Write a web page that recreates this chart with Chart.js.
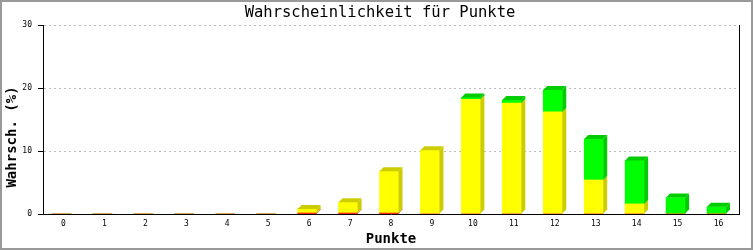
<!DOCTYPE html>
<html><head><meta charset="utf-8">
<script src="https://cdn.jsdelivr.net/npm/chart.js@4/dist/chart.umd.min.js"></script>
<style>html,body{margin:0;padding:0;background:#fff;overflow:hidden}</style>
</head><body>
<canvas id="c" width="753" height="250" style="display:block;width:753px;height:250px"></canvas>
<script>
const categories = ['0','1','2','3','4','5','6','7','8','9','10','11','12','13','14','15','16'];
const redValues    = [0,0,0,0,0,0,0.15,0.15,0.15,0,0,0,0,0,0,0,0];
const yellowValues = [0,0,0,0,0,0,0.65,1.7,6.65,10.1,18.2,17.6,16.2,5.4,1.6,0,0];
const greenValues  = [0,0,0,0,0,0,0,0,0,0,0.3,0.5,3.5,6.5,6.9,2.6,1.15];
const yTickValues  = [0,10,20,30];
const chartTitle = 'Wahrscheinlichkeit für Punkte';
const yTitle = 'Wahrsch. (%)';
const xTitle = 'Punkte';

const MONO = '"DejaVu Sans Mono", "Liberation Mono", monospace';
const DEPTH = 4;

const bar3d = {
  id: 'bar3d',
  beforeDatasetsDraw(chart) { chart.ctx.save(); chart.ctx.translate(-DEPTH / 2, 0); },
  afterDatasetsDraw(chart) {
    const ctx = chart.ctx;
    const n = chart.data.labels.length;
    for (let i = 0; i < n; i++) {
      let topEl = null, topDs = null;
      chart.data.datasets.forEach((ds, di) => {
        const meta = chart.getDatasetMeta(di);
        const el = meta.data[i];
        if (!el) return;
        const p = el.getProps(['x', 'y', 'base', 'width'], true);
        if (Math.abs(p.base - p.y) < 0.05) return;
        const r = p.x + p.width / 2;
        ctx.fillStyle = ds.sideColor;
        ctx.beginPath();
        ctx.moveTo(r, p.y); ctx.lineTo(r + DEPTH, p.y - DEPTH);
        ctx.lineTo(r + DEPTH, p.base - DEPTH); ctx.lineTo(r, p.base);
        ctx.closePath(); ctx.fill();
        topEl = p; topDs = ds;
      });
      if (topEl) {
        const l = topEl.x - topEl.width / 2, r = topEl.x + topEl.width / 2, y = topEl.y;
        ctx.fillStyle = topDs.sideColor;
        ctx.beginPath();
        ctx.moveTo(l, y); ctx.lineTo(l + DEPTH, y - DEPTH);
        ctx.lineTo(r + DEPTH, y - DEPTH); ctx.lineTo(r, y);
        ctx.closePath(); ctx.fill();
      }
    }
    ctx.restore();
  }
};

const frame = {
  id: 'frame',
  beforeDraw(chart) {
    const ctx = chart.ctx;
    ctx.save(); ctx.fillStyle = '#fff'; ctx.fillRect(0, 0, chart.width, chart.height); ctx.restore();
  },
  afterDraw(chart) {
    const ctx = chart.ctx, a = chart.chartArea;
    ctx.save();
    ctx.strokeStyle = '#000'; ctx.lineWidth = 1;
    ctx.beginPath(); ctx.moveTo(a.right + 0.5, a.top); ctx.lineTo(a.right + 0.5, a.bottom); ctx.stroke();
    // titles
    ctx.fillStyle = '#000';
    ctx.textAlign = 'center'; ctx.textBaseline = 'middle';
    ctx.font = 'normal 15.5px ' + MONO;
    ctx.fillText(chartTitle, 380, 13);
    ctx.save();
    ctx.translate(12.5, 137);
    ctx.rotate(-Math.PI / 2);
    ctx.font = 'bold 14px ' + MONO;
    ctx.fillText(yTitle, 0, 0);
    ctx.restore();
    ctx.strokeStyle = '#999'; ctx.lineWidth = 2;
    ctx.strokeRect(1, 1, chart.width - 2, chart.height - 2);
    ctx.restore();
  }
};

new Chart(document.getElementById('c'), {
  type: 'bar',
  data: {
    labels: categories,
    datasets: [
      { label: 'rot', data: redValues, backgroundColor: '#ff0000', sideColor: '#cc0000', barThickness: 19 },
      { label: 'gelb', data: yellowValues, backgroundColor: '#ffff00', sideColor: '#cccc00', barThickness: 19 },
      { label: 'grün', data: greenValues, backgroundColor: '#00ff00', sideColor: '#00cc00', barThickness: 19 }
    ]
  },
  options: {
    responsive: false,
    animation: false,
    devicePixelRatio: 1,
    layout: { padding: { left: 0, right: 14, top: 25, bottom: 0 } },
    plugins: {
      legend: { display: false },
      tooltip: { enabled: false },
      title: { display: false }
    },
    scales: {
      x: {
        stacked: true,
        grid: { display: false, drawTicks: false },
        border: { display: true, color: '#000', width: 1 },
        ticks: { color: '#000', font: { family: MONO, size: 8 }, padding: 5, maxRotation: 0, autoSkip: false },
        title: { display: true, text: xTitle, color: '#000', font: { family: MONO, size: 14, weight: 'bold', lineHeight: 1.2 }, padding: { top: 0, bottom: 2 } },
        afterFit(scale) { scale.height = 36; }
      },
      y: {
        stacked: true,
        min: 0, max: 30,
        afterBuildTicks(scale) { scale.ticks = yTickValues.map(v => ({ value: v })); },
        grid: { color: '#bbbbbb', lineWidth: 1, drawTicks: true, tickLength: 5, tickColor: '#000', tickWidth: 1 },
        border: { display: true, color: '#000', width: 1, dash: [2, 3] },
        ticks: { color: '#000', font: { family: MONO, size: 8 }, padding: 6 },
        title: { display: false },
        afterFit(scale) { scale.width = 43; }
      }
    }
  },
  plugins: [bar3d, frame]
});
</script>
</body></html>
